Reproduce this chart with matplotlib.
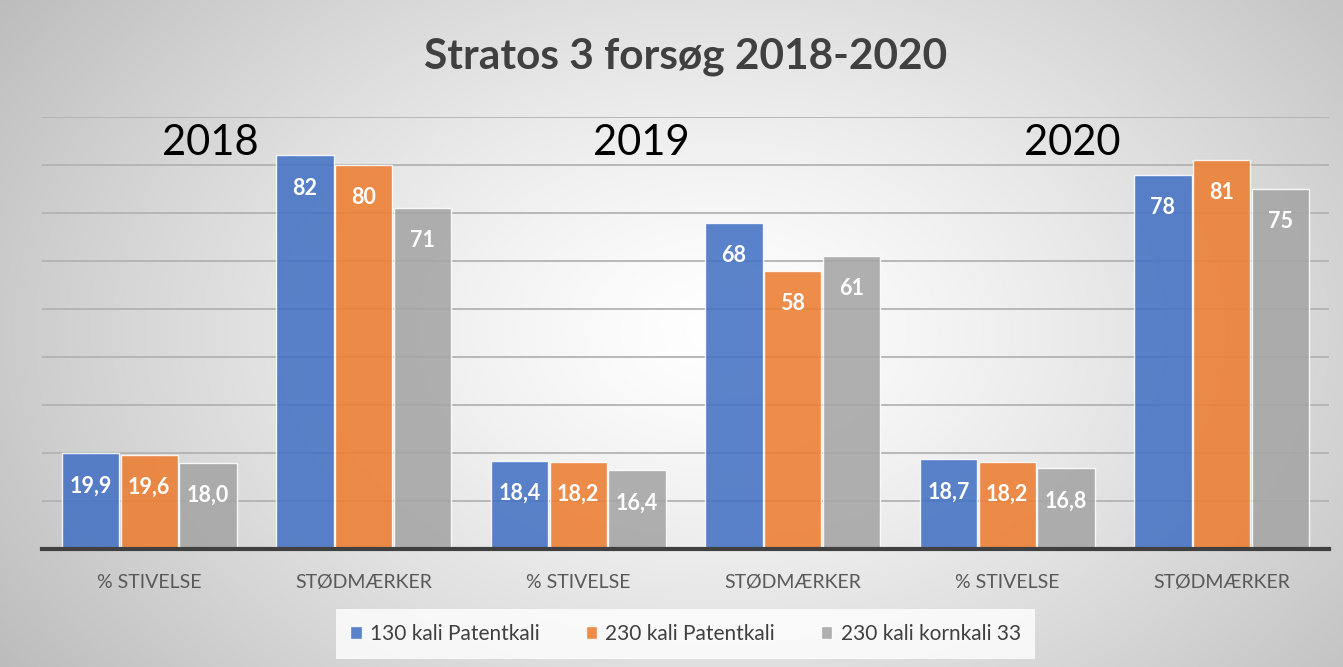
import matplotlib
matplotlib.use("Agg")
import matplotlib.pyplot as plt
import numpy as np

plt.rcParams['font.family'] = ['Lato', 'DejaVu Sans']

categories = ["% STIVELSE", "STØDMÆRKER", "% STIVELSE", "STØDMÆRKER", "% STIVELSE", "STØDMÆRKER"]
series_names = ["130 kali Patentkali", "230 kali Patentkali", "230 kali kornkali 33"]
s130 = [19.9, 82, 18.4, 68, 18.7, 78]
s230 = [19.6, 80, 18.2, 58, 18.2, 81]
skorn = [18.0, 71, 16.4, 61, 16.8, 75]
years = ["2018", "2019", "2020"]
title = "Stratos 3 forsøg 2018-2020"

colors = ["#4472C4", "#ED7D31", "#A5A5A5"]

W, H = 1343, 667
fig = plt.figure(figsize=(W / 100, H / 100), dpi=100)

# radial gradient background
bg = fig.add_axes([0, 0, 1, 1], zorder=-10)
yy, xx = np.mgrid[0:H, 0:W]
cx, cy = 720, 330
r = np.sqrt(((xx - cx) / 760.0) ** 2 + ((yy - cy) / 520.0) ** 2)
r = np.clip(r, 0, 1.2)
val = 1.0 - 0.22 * r ** 1.3
img = np.dstack([val, val, val])
bg.imshow(img, aspect='auto', extent=[0, 1, 0, 1], origin='upper')
bg.set_axis_off()

ax = fig.add_axes([42 / W, 1 - 549 / H, (1329 - 42) / W, (549 - 117) / H])
ax.set_facecolor('none')
x = np.arange(len(categories))
bw = 0.268
offs = [-0.274, 0.0, 0.274]
for i, (vals, c) in enumerate(zip([s130, s230, skorn], colors)):
    ax.bar(x + offs[i], vals, width=bw, color=c, alpha=0.88,
           edgecolor=(1, 1, 1, 0.7), linewidth=1.0, zorder=3, label=series_names[i])
    for xi, v in zip(x + offs[i], vals):
        lab = f"{v:.1f}".replace(".", ",") if v < 50 else f"{v:.0f}"
        ax.annotate(lab, (xi, v), xytext=(0, -23.5), textcoords='offset points',
                    ha='center', va='center', color='white', fontsize=15.5,
                    fontweight='bold', zorder=5)

ax.set_xlim(-0.5, 5.5)
ax.set_ylim(0, 90)
ax.set_yticks(np.arange(10, 91, 10))
ax.yaxis.grid(True, color='#b3b3b3', linewidth=1.3, zorder=0)
ax.set_axisbelow(True)
ax.tick_params(axis='y', left=False, labelleft=False)
ax.set_xticks(x)
ax.set_xticklabels(categories, fontsize=14, color='#595959')
ax.tick_params(axis='x', length=0, pad=18)
for s in ['top', 'right', 'left']:
    ax.spines[s].set_visible(False)
ax.spines['bottom'].set_color('#404040')
ax.spines['bottom'].set_linewidth(3)
ax.spines['bottom'].set_zorder(6)

fig.text(686 / W, 1 - 57 / H, title, ha='center', va='center', fontsize=30.5,
         fontweight='bold', color='#404040')
for yr, xp in zip(years, [210, 641, 1072]):
    fig.text(xp / W, 1 - 143 / H, yr, ha='center', va='center', fontsize=30, color='black')

leg = fig.legend(loc='center', bbox_to_anchor=(0.5105, 1 - 634 / H), ncol=3, frameon=True,
                 fontsize=15, handlelength=0.55, handleheight=0.55, handletextpad=0.4,
                 columnspacing=2.2, borderpad=0.7)
leg.get_frame().set_facecolor((1, 1, 1, 0.25))
leg.get_frame().set_edgecolor('none')
leg.get_frame().set_boxstyle('square', pad=0)
for t in leg.get_texts():
    t.set_color('#404040')

fig.savefig("out.png", dpi=100)
